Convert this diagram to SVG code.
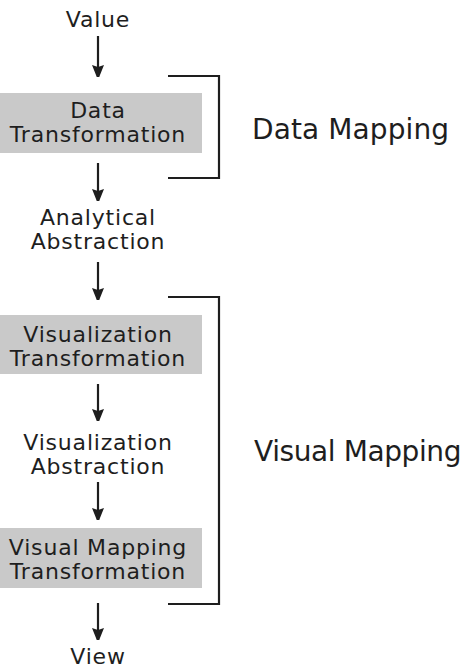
<svg xmlns="http://www.w3.org/2000/svg" width="465" height="669" viewBox="0 0 465 669">
<style>
text{font-family:"DejaVu Sans",Verdana,sans-serif;fill:#1e1e1e;text-anchor:middle}
.n{font-size:22px;letter-spacing:0.8px}
.h{font-size:28px;letter-spacing:0.1px;text-anchor:start}
.box{fill:#c9c9c9}
.c{stroke:#1e1e1e;stroke-width:2.2;fill:none}
</style>
<defs>
<marker id="ah" viewBox="0 0 12 15" refX="12" refY="6" markerWidth="12" markerHeight="15" markerUnits="userSpaceOnUse" orient="auto">
<path d="M0,0L15,6L0,12L2,6Z" fill="#1e1e1e"/>
</marker>
</defs>
<g id="value"><text class="n" x="98" y="27">Value</text></g>
<g id="data-transformation"><rect class="box" x="0" y="93" width="202" height="60"/><text class="n" x="98" y="118">Data</text><text class="n" x="98" y="142">Transformation</text></g>
<g id="analytical-abstraction"><text class="n" x="98" y="225">Analytical</text><text class="n" x="98" y="249">Abstraction</text></g>
<g id="visualization-transformation"><rect class="box" x="0" y="315" width="202" height="59"/><text class="n" x="98" y="342">Visualization</text><text class="n" x="98" y="366">Transformation</text></g>
<g id="visualization-abstraction"><text class="n" x="98" y="450">Visualization</text><text class="n" x="98" y="474">Abstraction</text></g>
<g id="visual-mapping-transformation"><rect class="box" x="0" y="528" width="202" height="60"/><text class="n" x="98" y="555">Visual Mapping</text><text class="n" x="98" y="579">Transformation</text></g>
<g id="view"><text class="n" x="98" y="664">View</text></g>
<g id="data-mapping"><text class="h" x="252" y="139">Data Mapping</text></g>
<g id="visual-mapping"><text class="h" x="254" y="461" style="letter-spacing:-0.4px">Visual Mapping</text></g>
<g id="connectors">
<line class="c" x1="98" y1="36" x2="98" y2="77" marker-end="url(#ah)"/>
<line class="c" x1="98" y1="163" x2="98" y2="201" marker-end="url(#ah)"/>
<line class="c" x1="98" y1="262" x2="98" y2="300" marker-end="url(#ah)"/>
<line class="c" x1="98" y1="384" x2="98" y2="421" marker-end="url(#ah)"/>
<line class="c" x1="98" y1="482" x2="98" y2="520" marker-end="url(#ah)"/>
<line class="c" x1="98" y1="603" x2="98" y2="640" marker-end="url(#ah)"/>
<polyline class="c" points="168,76 219,76 219,178 168,178"/>
<polyline class="c" points="168,297 219,297 219,604 168,604"/>
</g>
</svg>
